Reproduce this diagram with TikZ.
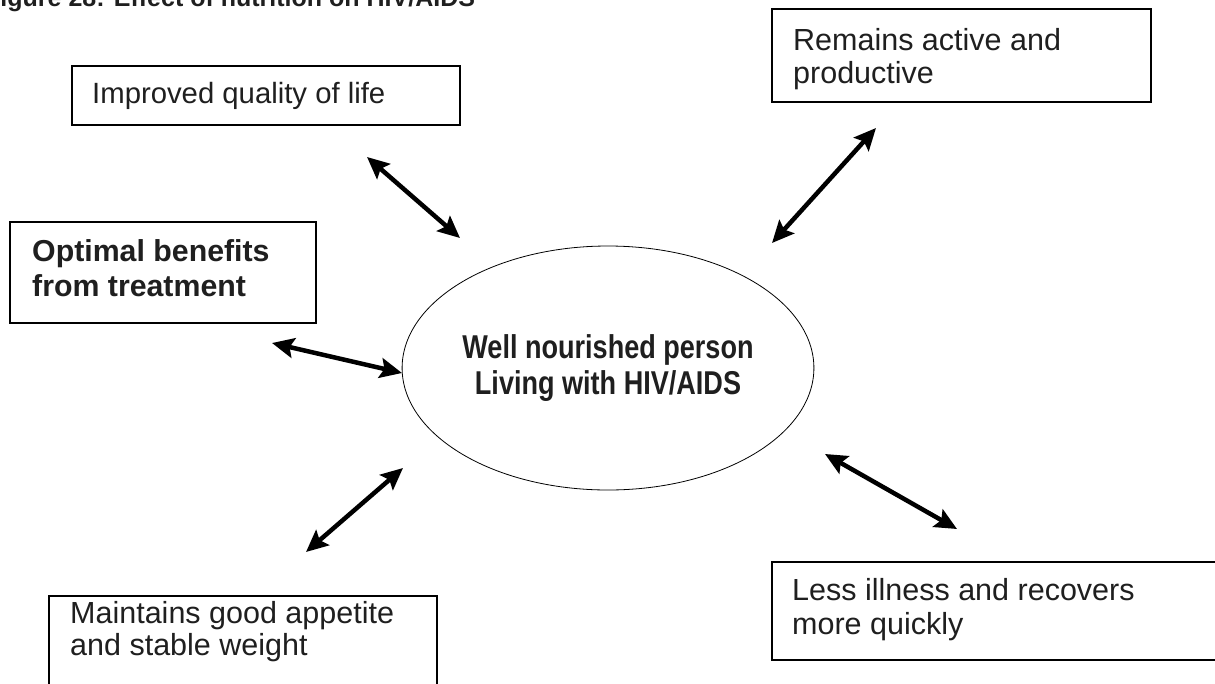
\documentclass[tikz,border=0pt]{standalone}
\usepackage{fontspec}
\setmainfont{Liberation Sans}
\newfontfamily\narrowbold[FakeStretch=0.82]{Liberation Sans}
\usetikzlibrary{shapes.geometric,arrows.meta}

\tikzset{
  outcome/.style={draw=black, line width=1.6pt, inner sep=0pt},
  boxtext/.style={anchor=north west, inner sep=0pt, align=left,
    font=\fontsize{30.5}{33}\selectfont, text=black!88},
  hub/.style={draw=black, line width=0.8pt, ellipse, inner sep=0pt,
    minimum width=410pt, minimum height=244pt, align=center,
    font=\narrowbold\bfseries\fontsize{33}{36}\selectfont, text=black!88},
  twoway/.style={line width=4.5pt, {Stealth[length=22pt,width=20pt,inset=4pt]}-{Stealth[length=22pt,width=20pt,inset=4pt]}},
}

\begin{document}
\begin{tikzpicture}[x=1pt, y=-1pt]
  \clip (0,0) rectangle (1215,683);
  \fill[white] (0,0) rectangle (1215,683);

  % caption, partly cut off by the page edge
  \node[anchor=base west, inner sep=0pt, font=\bfseries\fontsize{25}{28}\selectfont, text=black!88]
    (caption) at (-15,6) {Figure 28: Effect of nutrition on HIV/AIDS};

  % central idea
  \node[hub] (person) at (608,368) {Well nourished person\\Living with HIV/AIDS};

  % outcome boxes
  \node[outcome, minimum width=388pt, minimum height=59pt] (qol) at (266,95.5) {};
  \node[boxtext, font=\fontsize{29.3}{33}\selectfont] (qolt) at (92,82) {Improved quality of life};

  \node[outcome, minimum width=379pt, minimum height=93pt] (act) at (961.5,55.5) {};
  \node[boxtext] (actt) at (793,28) {Remains active and\\productive};

  \node[outcome, minimum width=306pt, minimum height=101pt] (opt) at (163,272.5) {};
  \node[boxtext, font=\bfseries\fontsize{30.3}{35}\selectfont] (optt) at (32,239) {Optimal benefits\\from treatment};

  \node[outcome, minimum width=388pt, minimum height=120pt] (app) at (243,656) {};
  \node[boxtext, font=\fontsize{30.5}{32}\selectfont] (appt) at (70,601) {Maintains good appetite\\and stable weight};

  \node[outcome, minimum width=480pt, minimum height=98pt] (ill) at (1012,611) {};
  \node[boxtext, font=\fontsize{30.5}{34.5}\selectfont] (illt) at (792,578) {Less illness and recovers\\more quickly};

  % arrow end points
  \coordinate (a1) at (367,157);  \coordinate (a2) at (460,238);
  \coordinate (b1) at (876,128);  \coordinate (b2) at (772,243);
  \coordinate (c1) at (272,343);  \coordinate (c2) at (402,373);
  \coordinate (d1) at (306,552);  \coordinate (d2) at (403,468);
  \coordinate (e1) at (825,454);  \coordinate (e2) at (957,529);

  % two-way links
  \draw[twoway] (a1) -- (a2);
  \draw[twoway] (b1) -- (b2);
  \draw[twoway] (c1) -- (c2);
  \draw[twoway] (d1) -- (d2);
  \draw[twoway] (e1) -- (e2);
\end{tikzpicture}
\end{document}
